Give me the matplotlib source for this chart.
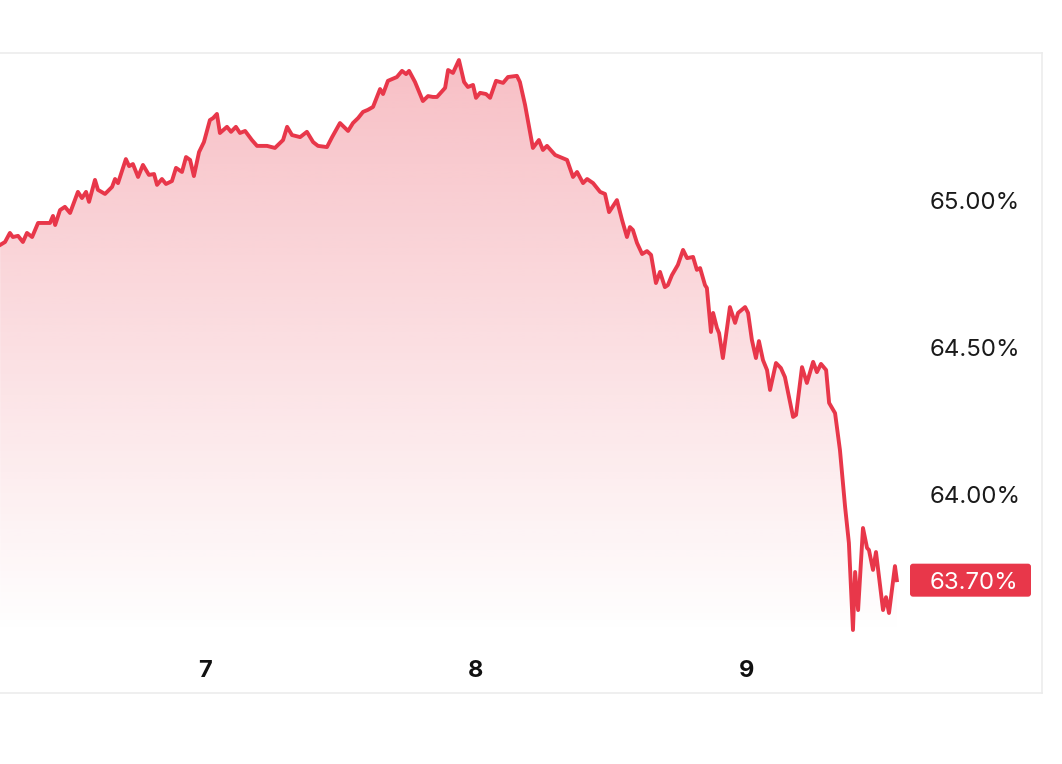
import numpy as np
import matplotlib
matplotlib.use("Agg")
import matplotlib.pyplot as plt
from matplotlib.patches import FancyBboxPatch
import matplotlib.transforms as mtransforms

# ---- data (day of month, percent) ----
days = [6.244, 6.262, 6.280, 6.291, 6.310, 6.328, 6.343, 6.362, 6.384, 6.410, 6.428, 6.439, 6.447,
        6.465, 6.483, 6.502, 6.531, 6.546, 6.561, 6.572, 6.594, 6.605, 6.631, 6.657, 6.668, 6.679,
        6.708, 6.720, 6.734, 6.753, 6.771, 6.793, 6.812, 6.823, 6.841, 6.856, 6.878, 6.893, 6.915,
        6.930, 6.945, 6.959, 6.978, 6.996, 7.018, 7.030, 7.044, 7.055, 7.081, 7.096, 7.114, 7.129,
        7.148, 7.173, 7.192, 7.229, 7.258, 7.288, 7.303, 7.321, 7.351,
        7.376, 7.399, 7.417, 7.450, 7.469, 7.498, 7.528, 7.546, 7.565, 7.583, 7.601, 7.620, 7.646,
        7.657, 7.675, 7.708, 7.727, 7.742, 7.753, 7.775, 7.804, 7.823, 7.841, 7.856, 7.886, 7.897,
        7.915, 7.937, 7.956, 7.970, 7.989, 8.000, 8.015, 8.037, 8.052, 8.074, 8.100, 8.118, 8.151,
        8.162, 8.181, 8.210, 8.232, 8.247, 8.262, 8.292, 8.310, 8.336, 8.358, 8.373, 8.395, 8.410,
        8.432, 8.458,
        8.476, 8.491, 8.520, 8.539, 8.557, 8.568, 8.579, 8.594, 8.613, 8.631, 8.646, 8.664, 8.679,
        8.697, 8.708, 8.723, 8.745, 8.764, 8.779, 8.801, 8.815, 8.827, 8.845, 8.852, 8.867, 8.875,
        8.889, 8.897, 8.911, 8.937, 8.956, 8.967, 8.993, 9.004, 9.018, 9.033, 9.044, 9.059, 9.074,
        9.085, 9.107, 9.125, 9.140, 9.170, 9.181, 9.203, 9.221, 9.244, 9.258, 9.273, 9.292, 9.303,
        9.325, 9.343, 9.362, 9.376, 9.391, 9.399, 9.410, 9.428, 9.443, 9.450, 9.465, 9.476, 9.502,
        9.513, 9.524, 9.546, 9.553]
values = [64.850, 64.860, 64.891, 64.877, 64.881, 64.860, 64.891, 64.877, 64.925, 64.925, 64.925, 64.949, 64.918,
          64.969, 64.980, 64.959, 65.031, 65.010, 65.031, 64.997, 65.072, 65.038, 65.024, 65.048, 65.075, 65.061,
          65.143, 65.119, 65.126, 65.082, 65.123, 65.089, 65.092, 65.055, 65.075, 65.058, 65.068, 65.113, 65.099,
          65.150, 65.140, 65.085, 65.167, 65.201, 65.276, 65.283, 65.297, 65.232, 65.253, 65.236, 65.253, 65.232,
          65.239, 65.208, 65.188, 65.188, 65.181, 65.208, 65.253, 65.225, 65.218,
          65.236, 65.201, 65.188, 65.184, 65.218, 65.266, 65.239, 65.266, 65.283, 65.304, 65.311, 65.321, 65.382,
          65.365, 65.410, 65.423, 65.444, 65.433, 65.444, 65.406, 65.341, 65.358, 65.355, 65.355, 65.386, 65.447,
          65.437, 65.481, 65.406, 65.389, 65.396, 65.352, 65.369, 65.365, 65.352, 65.410, 65.403, 65.423, 65.427,
          65.406, 65.328, 65.181, 65.208, 65.174, 65.188, 65.157, 65.150, 65.140, 65.082, 65.099, 65.061, 65.075,
          65.061, 65.031,
          65.024, 64.962, 65.003, 64.935, 64.877, 64.911, 64.901, 64.857, 64.819, 64.829, 64.816, 64.720, 64.758,
          64.706, 64.713, 64.747, 64.782, 64.833, 64.805, 64.809, 64.765, 64.771, 64.713, 64.703, 64.553, 64.618,
          64.567, 64.549, 64.464, 64.638, 64.584, 64.618, 64.638, 64.618, 64.526, 64.464, 64.522, 64.457, 64.423,
          64.355, 64.447, 64.430, 64.399, 64.263, 64.270, 64.433, 64.379, 64.451, 64.416, 64.444, 64.423, 64.311,
          64.276, 64.150, 63.956, 63.833, 63.536, 63.734, 63.604, 63.884, 63.816, 63.809, 63.741, 63.802, 63.604,
          63.648, 63.594, 63.754, 63.706]

y_ticks = [65.00, 64.50, 64.00]
x_ticks = [7, 8, 9]
x_tick_labels = ["7", "8", "9"]
current_label = "63.70%"

LINE = "#e8374a"

plt.rcParams['font.family'] = ['Inter', 'DejaVu Sans']

fig = plt.figure(figsize=(10.62, 7.64), dpi=100)
ax = fig.add_axes([0.0, 71 / 764, 1042 / 1062, 640 / 764])
XLIM = (6.2435, 10.0886)
YLIM = (63.321, 65.505)
ax.set_xlim(*XLIM)
ax.set_ylim(*YLIM)

x = np.array(days)
y = np.array(values)

# gradient fill under line
ymin, ymax = YLIM
grad_top, grad_bot = 65.48, 63.52
n = 256
yy = np.linspace(ymin, ymax, n)
alpha = np.clip((yy - grad_bot) / (grad_top - grad_bot), 0, 1) * 0.32
rgba = np.zeros((n, 1, 4))
rgba[..., 0] = 232 / 255
rgba[..., 1] = 55 / 255
rgba[..., 2] = 74 / 255
rgba[..., 3] = alpha[:, None]
poly = ax.fill_between(x, y, ymin, color="none", lw=0)
im = ax.imshow(rgba, extent=[x[0], x[-1], ymin, ymax], origin="lower",
               aspect="auto", zorder=1, interpolation="bilinear")
im.set_clip_path(poly.get_paths()[0], ax.transData)
ax.set_xlim(*XLIM)
ax.set_ylim(*YLIM)

ax.plot(x, y, color=LINE, lw=2.8, zorder=3, solid_joinstyle="round")

# frame
for s in ["top", "right", "bottom"]:
    ax.spines[s].set_color("#ececec")
    ax.spines[s].set_linewidth(1.2)
ax.spines["left"].set_visible(False)
ax.set_xticks([])
ax.set_yticks([])

LABEL_X = 930 / 1042

# y labels
for v in y_ticks:
    ax.text(LABEL_X, v, f"{v:.2f}%", transform=ax.get_yaxis_transform(),
            ha="left", va="center_baseline", fontsize=17.3, color="#1a1a1a")

# x labels
for xv, lab in zip(x_ticks, x_tick_labels):
    ax.text(xv, 0.038, lab, transform=ax.get_xaxis_transform(), ha="center",
            va="center_baseline", fontsize=17, fontweight="bold", color="#111111")

# current value badge
trans = mtransforms.blended_transform_factory(ax.transAxes, ax.transData)
last = values[-1]
ax.text(LABEL_X, last, current_label, transform=trans, ha="left", va="center_baseline",
        fontsize=17.3, color="white", zorder=6)
anchor = mtransforms.ScaledTranslation(910 / 1042, last, trans)
bx = FancyBboxPatch((0, -0.165), 1.21, 0.33,
                    boxstyle="round,pad=0,rounding_size=0.03",
                    transform=fig.dpi_scale_trans + anchor,
                    facecolor=LINE, edgecolor="none", zorder=5, clip_on=False)
ax.add_patch(bx)

fig.savefig("out.png", dpi=100)
